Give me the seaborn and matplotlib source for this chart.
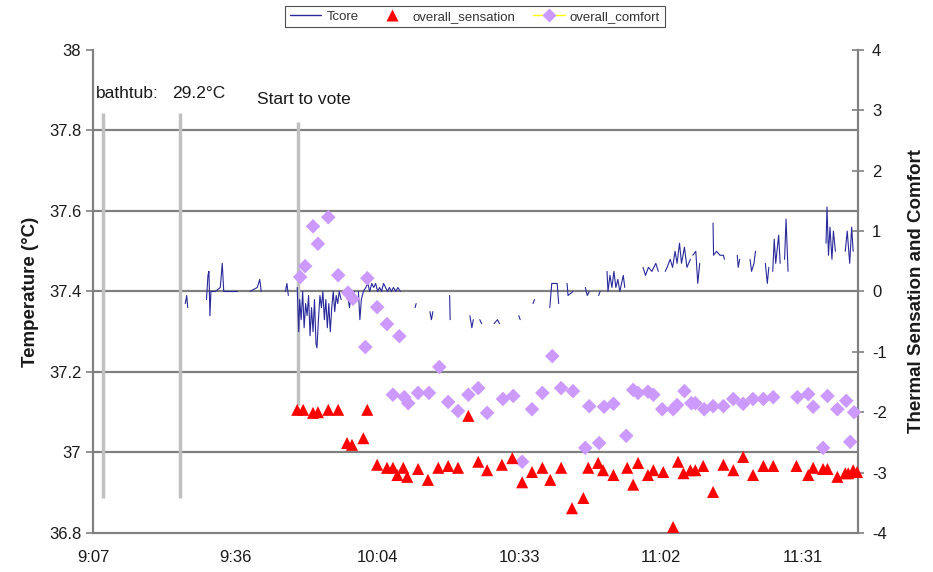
import numpy as np
import pandas as pd
import matplotlib
matplotlib.use("Agg")
import matplotlib.pyplot as plt
from matplotlib.lines import Line2D
import seaborn as sns

# tiempo en minutos desde las 9:00
nan = np.nan
tcore_min = [25.9, 26.2, 26.4, nan,
             30.2, 30.5, 30.7, 30.9, 31.1, 32.0, 33.0, 33.4, 33.7, 35.0, 36.5, nan,
             39.0, 40.5, 41.0, 41.3, nan,
             46.2, 46.5, 46.8, nan,
             48.6, 48.9, 49.1, 49.4, 49.7, 50.0, 50.3, 50.6, 50.9, 51.2, 51.5, 51.8, 52.1, 52.4, 52.6,
             52.9, 53.2, 53.5, 53.8, 54.1, 54.4, 54.7, 55.0, 55.3, 55.6, 55.9, 56.2, 56.5, 56.8, 57.1, 57.5, nan,
             58.8, 59.2, 59.6, 60.2, nan,
             61.0, 61.3, 61.6, 62.0, 62.5, 62.9, 63.3, 63.7, 64.1, 64.5, 64.9, 65.3, 65.7, 66.1, 66.5,
             66.9, 67.3, 67.7, 68.1, 68.6, 69.0, 69.5, nan,
             72.5, 72.7, nan,
             75.5, 75.8, 76.1, nan,
             79.5, 79.6, nan,
             83.6, 84.0, 84.3, nan,
             85.6, 86.0, nan,
             88.5, 89.2, 89.6, nan,
             93.5, 93.8, nan,
             96.4, 96.7, nan,
             99.8, 100.2, 101.3, 101.6, nan,
             103.3, 103.5, 104.5, nan,
             107.0, 107.4, 107.8, nan,
             109.7, 110.0, nan,
             111.4, 111.6, 112.0, 112.4, 112.8, 113.2, 113.6, 114.0, 114.7, 115.0, nan,
             118.7, 119.2, 119.8, 120.5, 121.3, 121.8, nan,
             123.2, 123.6, 124.2, 124.7, 125.2, 125.6, 126.1, 126.5, 127.1, 127.6, 128.3, nan,
             128.8, 129.4, 129.8, 130.2, nan,
             132.9, 133.0, 133.6, 134.3, 135.0, 135.2, nan,
             137.8, 138.0, 138.3, nan,
             140.4, 140.7, 141.2, 141.5, nan,
             143.5, 143.9, 144.2, nan,
             145.0, 145.3, 145.6, 146.2, 146.5, nan,
             147.4, 147.7, 148.1, nan,
             155.8, 156.0, 156.3, 156.6, 157.0, 157.3, 157.7, nan,
             159.7, 160.1, 160.6, 161.0, 161.3]
tcore_val = [37.37, 37.39, 37.36, nan,
             37.38, 37.44, 37.45, 37.34, 37.40, 37.40, 37.41, 37.47, 37.40, 37.40, 37.40, nan,
             37.40, 37.41, 37.43, 37.40, nan,
             37.40, 37.42, 37.39, nan,
             37.41, 37.30, 37.38, 37.33, 37.40, 37.31, 37.37, 37.34, 37.39, 37.29, 37.36, 37.30, 37.38, 37.27, 37.26,
             37.33, 37.39, 37.36, 37.40, 37.33, 37.38, 37.31, 37.37, 37.30, 37.36, 37.40, 37.35, 37.39, 37.37, 37.40, 37.38, nan,
             37.39, 37.36, 37.40, 37.40, nan,
             37.40, 37.33, 37.38, 37.40, 37.41, 37.42, 37.40, 37.42, 37.41, 37.42, 37.40, 37.41, 37.40, 37.42, 37.41,
             37.40, 37.41, 37.40, 37.41, 37.40, 37.41, 37.40, nan,
             37.36, 37.37, nan,
             37.35, 37.33, 37.35, nan,
             37.39, 37.33, nan,
             37.34, 37.31, 37.33, nan,
             37.33, 37.32, nan,
             37.32, 37.33, 37.32, nan,
             37.34, 37.33, nan,
             37.37, 37.38, nan,
             37.36, 37.42, 37.42, 37.37, nan,
             37.42, 37.39, 37.40, nan,
             37.41, 37.39, 37.40, nan,
             37.39, 37.40, nan,
             37.45, 37.40, 37.44, 37.41, 37.45, 37.41, 37.43, 37.40, 37.44, 37.41, nan,
             37.46, 37.44, 37.46, 37.45, 37.47, 37.45, nan,
             37.45, 37.46, 37.48, 37.46, 37.50, 37.47, 37.52, 37.47, 37.51, 37.46, 37.48, nan,
             37.49, 37.50, 37.42, 37.47, nan,
             37.57, 37.49, 37.50, 37.49, 37.49, 37.48, nan,
             37.49, 37.46, 37.48, nan,
             37.48, 37.45, 37.47, 37.50, nan,
             37.47, 37.42, 37.46, nan,
             37.45, 37.53, 37.47, 37.54, 37.47, nan,
             37.48, 37.58, 37.45, nan,
             37.52, 37.61, 37.49, 37.56, 37.48, 37.55, 37.50, nan,
             37.50, 37.55, 37.47, 37.56, 37.50]

sens_min = [48.6, 49.8, 51.8, 52.8, 54.9, 56.9, 58.7, 59.7, 62.0, 62.8, 64.8, 66.8, 68.0, 68.9, 70.1,
            70.9, 73.1, 75.1, 77.2, 79.2, 81.2, 83.3, 85.3, 87.1, 90.1, 92.2, 94.2, 96.2, 98.3, 99.9,
            102.1, 104.3, 106.6, 107.6, 109.6, 110.6, 112.7, 115.5, 116.7, 117.7, 119.7, 120.8, 122.8,
            124.8, 125.8, 126.9, 128.3, 129.3, 130.9, 132.9, 135.0, 137.0, 139.0, 141.0, 143.1, 145.1,
            149.8, 152.2, 153.2, 155.2, 156.1, 158.1, 159.7, 160.3, 161.3, 162.1]
sens_val = [-1.96, -1.96, -2.01, -2.00, -1.96, -1.96, -2.51, -2.54, -2.43, -1.96, -2.87, -2.92, -2.92, -3.04, -2.92,
            -3.07, -2.94, -3.12, -2.92, -2.89, -2.92, -2.06, -2.82, -2.96, -2.87, -2.76, -3.16, -2.99, -2.92, -3.12,
            -2.92, -3.59, -3.42, -2.92, -2.84, -2.96, -3.04, -2.92, -3.20, -2.84, -3.04, -2.96, -2.99,
            -3.90, -2.82, -3.01, -2.96, -2.96, -2.89, -3.32, -2.87, -2.96, -2.74, -3.04, -2.89, -2.89,
            -2.89, -3.04, -2.92, -2.94, -2.94, -3.07, -3.01, -3.01, -2.96, -2.99]

comf_min = [49.2, 50.2, 51.8, 52.8, 54.9, 56.9, 58.9, 59.9, 62.4, 62.8, 64.8, 66.8, 68.0, 69.3, 70.3,
            71.1, 73.1, 75.3, 77.4, 79.2, 81.2, 83.3, 85.3, 87.1, 90.3, 92.4, 94.2, 96.2, 98.3, 100.3,
            102.1, 104.5, 107.0, 107.8, 109.8, 110.8, 112.7, 115.3, 116.7, 117.7, 119.7, 120.8, 122.6,
            124.8, 125.6, 127.1, 128.5, 129.3, 131.1, 132.9, 135.0, 137.0, 139.0, 141.0, 143.1, 145.1,
            150.0, 152.2, 153.2, 155.2, 156.1, 158.1, 159.9, 160.7, 161.5]
comf_val = [0.24, 0.42, 1.08, 0.79, 1.23, 0.27, -0.02, -0.12, -0.92, 0.22, -0.26, -0.54, -1.71, -0.74, -1.75,
            -1.85, -1.68, -1.68, -1.25, -1.83, -1.98, -1.71, -1.60, -2.01, -1.78, -1.73, -2.82, -1.95, -1.68, -1.07,
            -1.60, -1.65, -2.59, -1.90, -2.51, -1.91, -1.86, -2.39, -1.63, -1.68, -1.66, -1.71, -1.95,
            -1.95, -1.88, -1.65, -1.85, -1.85, -1.95, -1.90, -1.90, -1.78, -1.86, -1.78, -1.78, -1.75,
            -1.75, -1.70, -1.91, -2.59, -1.73, -1.95, -1.81, -2.49, -2.00]

# eventos (minutos desde 9:00)
event_min = [9.2, 24.8, 48.8]
x_ticks = [7.2, 36.0, 64.8, 93.6, 122.4, 151.2]
x_labels = ["9:07", "9:36", "10:04", "10:33", "11:02", "11:31"]

df_core = pd.DataFrame({"t": tcore_min, "T": tcore_val})
df_core["seg"] = df_core["T"].isna().cumsum()
df_core = df_core.dropna()
df_sens = pd.DataFrame({"t": sens_min, "v": sens_val})
df_comf = pd.DataFrame({"t": comf_min, "v": comf_val})

sns.set_style("white")
plt.rcParams["font.family"] = ["Liberation Sans", "DejaVu Sans"]
plt.rcParams["axes.unicode_minus"] = False

fig = plt.figure(figsize=(9.33, 5.72), dpi=100)
ax = fig.add_axes([0.0997, 0.0682, 0.82, 0.8444])
ax2 = ax.twinx()

grid_c = "#808080"
txt_c = "#1a1a1a"
for v in [37.0, 37.2, 37.4, 37.6, 37.8]:
    ax.axhline(v, color=grid_c, lw=1.6, zorder=0)

# lineas verticales de eventos
ax.vlines(event_min[:2], 36.887, 37.843, color="#c0c0c0", lw=2.5, zorder=1)
ax.vlines(event_min[2:], 37.118, 37.821, color="#c0c0c0", lw=2.5, zorder=1)

sns.lineplot(data=df_core, x="t", y="T", units="seg", estimator=None, ax=ax,
             color="#2a2a9c", lw=0.8, zorder=3)

sns.scatterplot(data=df_comf, x="t", y="v", ax=ax2, marker="D", s=55,
                color="#cc99ff", edgecolor="none", zorder=4, clip_on=False)
sns.scatterplot(data=df_sens, x="t", y="v", ax=ax2, marker="^", s=75,
                color="#ff0000", edgecolor="none", zorder=5, clip_on=False)

ax.set_xlim(7.2, 162.3)
ax.set_ylim(36.8, 38.0)
ax2.set_ylim(-4, 4)
ax.set_xticks(x_ticks)
ax.set_xticklabels(x_labels)
ax.set_yticks([36.8, 37.0, 37.2, 37.4, 37.6, 37.8, 38.0])
ax.set_yticklabels(["36.8", "37", "37.2", "37.4", "37.6", "37.8", "38"])
ax2.set_yticks(range(-4, 5))

ax.set_xlabel("")
ax.set_ylabel("Temperature (°C)", fontsize=13.5, fontweight="bold", labelpad=7, color=txt_c)
ax2.set_ylabel("Thermal Sensation and Comfort", fontsize=13.5, fontweight="bold", labelpad=15, color=txt_c)

for a in (ax, ax2):
    a.spines["top"].set_visible(False)
    for s in ("left", "right", "bottom"):
        a.spines[s].set_color(grid_c)
        a.spines[s].set_linewidth(1.5)
ax.tick_params(axis="both", colors=grid_c, labelcolor=txt_c, labelsize=12,
               length=5, width=1.2, direction="out")
ax.tick_params(axis="x", pad=7)
ax2.tick_params(axis="y", colors=grid_c, labelcolor=txt_c, labelsize=12,
                length=8, width=1.2, direction="inout", pad=6)

ax.text(7.8, 37.893, "bathtub:", fontsize=12.5, va="center", ha="left", color=txt_c)
ax.text(23.2, 37.893, "29.2°C", fontsize=12.5, va="center", ha="left", color=txt_c)
ax.text(40.5, 37.876, "Start to vote", fontsize=12.5, va="center", ha="left", color=txt_c)

handles = [
    Line2D([], [], color="#2a2a9c", lw=1),
    Line2D([], [], color="none", marker="^", markerfacecolor="#ff0000", markeredgecolor="none", markersize=9),
    Line2D([], [], color="#ffff00", lw=1, marker="D", markerfacecolor="#cc99ff", markeredgecolor="none", markersize=7),
]
leg = fig.legend(handles, ["Tcore", "overall_sensation", "overall_comfort"], loc="center",
                 bbox_to_anchor=(0.509, 0.971), ncol=3, fontsize=9.5, frameon=True, fancybox=False,
                 edgecolor="#222222", borderpad=0.35, handlelength=2.4, columnspacing=1.3,
                 handletextpad=0.4)
leg.get_frame().set_linewidth(0.8)
for t in leg.get_texts():
    t.set_color("#333333")

fig.savefig("out.png", dpi=100)
